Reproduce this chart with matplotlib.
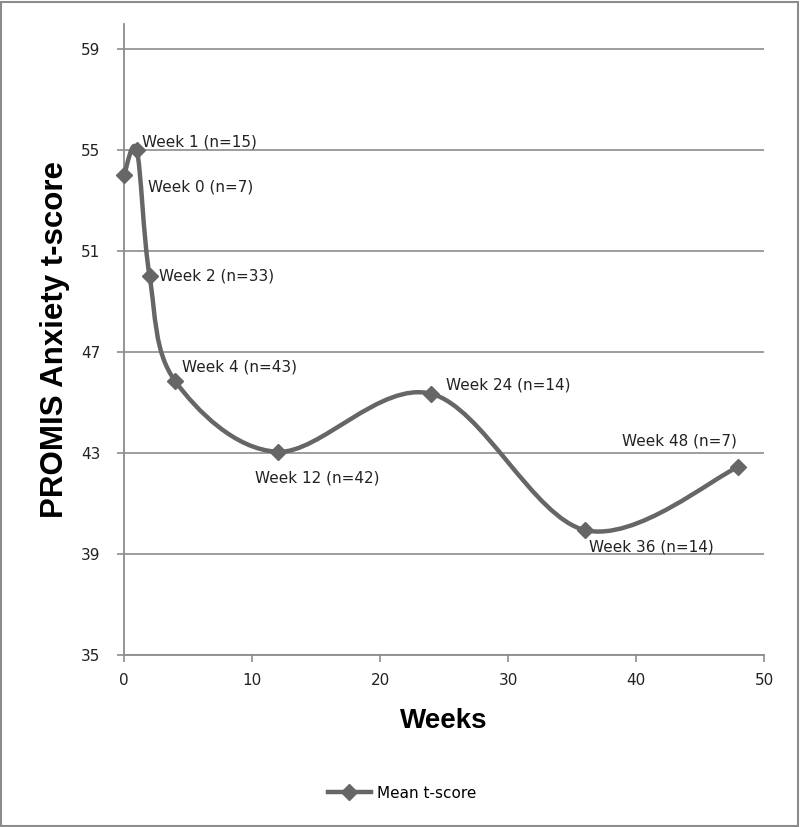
import matplotlib
matplotlib.use("Agg")
import matplotlib.pyplot as plt
from matplotlib.path import Path
from matplotlib.patches import PathPatch, Rectangle
from matplotlib.lines import Line2D
import numpy as np

weeks = [0, 1, 2, 4, 12, 24, 36, 48]
scores = [54.0, 55.0, 50.0, 45.85, 43.05, 45.35, 39.95, 42.45]
labels = ["Week 0 (n=7)", "Week 1 (n=15)", "Week 2 (n=33)", "Week 4 (n=43)",
          "Week 12 (n=42)", "Week 24 (n=14)", "Week 36 (n=14)", "Week 48 (n=7)"]
# label offsets in points (style only)
offsets = [(17, -8), (4, 6), (7, 0), (5, 10), (-16, -19), (11, 6), (3, -12), (-84, 19)]
y_ticks = [35, 39, 43, 47, 51, 55, 59]
x_ticks = [0, 10, 20, 30, 40, 50]

line_color = "#666666"

fig = plt.figure(figsize=(8.0, 8.27), dpi=100)
ax = fig.add_axes([124/800, 1-655/827, (764-124)/800, (655-24)/827])

# Excel-like smoothed curve via cubic Bezier segments
pts = np.column_stack([weeks, scores]).astype(float)
n = len(pts)
verts = [tuple(pts[0])]
codes = [Path.MOVETO]
t = 1/6
for i in range(n-1):
    p0 = pts[i-1] if i > 0 else pts[i]
    p1 = pts[i]
    p2 = pts[i+1]
    p3 = pts[i+2] if i+2 < n else pts[i+1]
    c1 = p1 + (p2 - p0) * t
    c2 = p2 - (p3 - p1) * t
    verts += [tuple(c1), tuple(c2), tuple(p2)]
    codes += [Path.CURVE4]*3
path = Path(verts, codes)
ax.add_patch(PathPatch(path, facecolor="none", edgecolor=line_color, lw=3.2,
                       capstyle="round", joinstyle="round", zorder=3, clip_on=False))
ax.plot(weeks, scores, linestyle="none", marker="D", markersize=8.5,
        color=line_color, zorder=4, clip_on=False)

for x, y, lab, off in zip(weeks, scores, labels, offsets):
    ax.annotate(lab, (x, y), xytext=off, textcoords="offset points",
                fontsize=11, color="#222222", va="center", ha="left", zorder=5)

ax.set_xlim(0, 50)
ax.set_ylim(35, 60)
ax.set_yticks(y_ticks)
ax.set_xticks(x_ticks)
ax.yaxis.grid(True, color="#8c8c8c", lw=1.2)
ax.set_axisbelow(True)
for s in ["top", "right"]:
    ax.spines[s].set_visible(False)
for s in ["left", "bottom"]:
    ax.spines[s].set_color("#8c8c8c")
    ax.spines[s].set_linewidth(1.3)
ax.tick_params(axis="both", direction="out", length=5, color="#8c8c8c",
               labelsize=11, labelcolor="#222222", width=1.2)
ax.tick_params(axis="y", pad=12)
ax.tick_params(axis="x", pad=8)

ax.set_ylabel("PROMIS Anxiety t-score", fontsize=22.5, fontweight="bold",
              labelpad=8, fontfamily="Liberation Sans")
ax.set_xlabel("Weeks", fontsize=20, fontweight="bold", labelpad=14,
              fontfamily="Liberation Sans")

handle = Line2D([], [], color=line_color, lw=3.2, marker="D", markersize=8)
fig.legend([handle], ["Mean t-score"], loc="center", bbox_to_anchor=(402/800, 1-793/827),
           frameon=False, fontsize=11, handlelength=2.8, handletextpad=0.4)

fig.patches.append(Rectangle((0.001, 0.001), 0.996, 0.997, transform=fig.transFigure,
                             fill=False, edgecolor="#8c8c8c", lw=1.5))

fig.savefig("out.png", dpi=100, facecolor="white")
